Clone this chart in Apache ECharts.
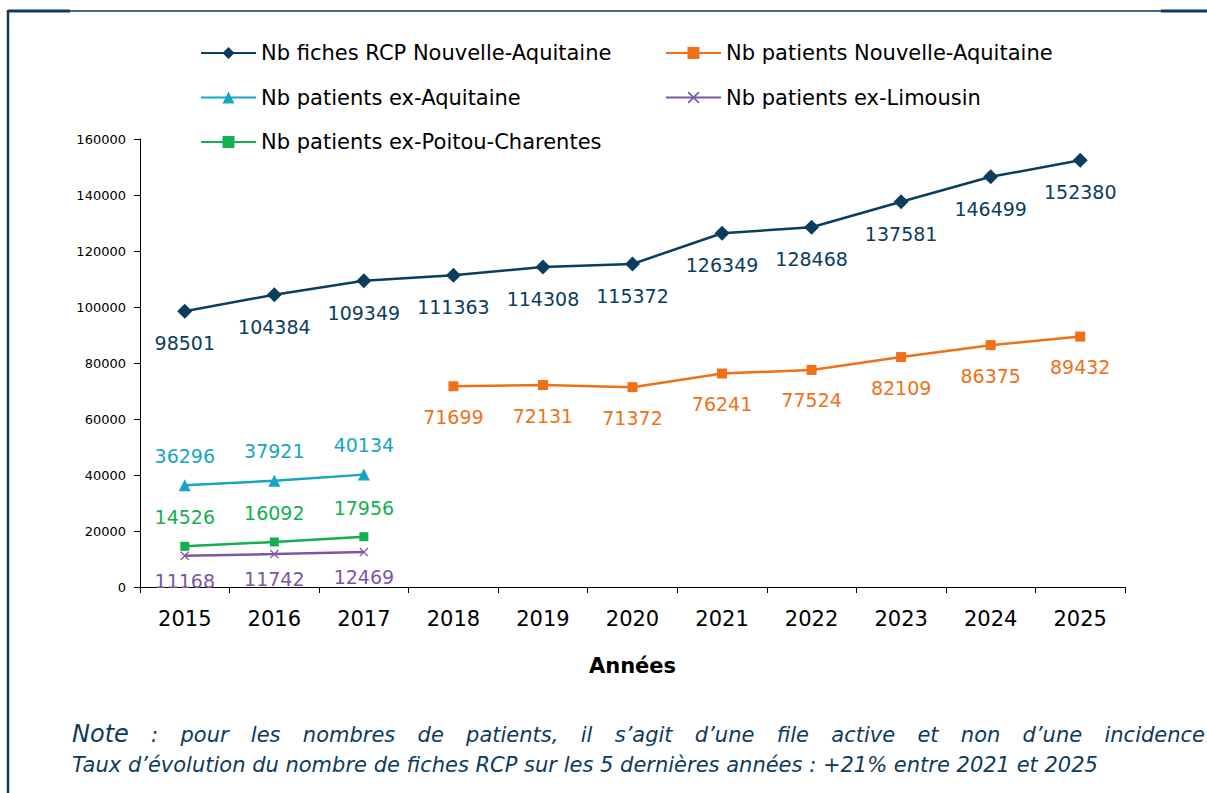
<!DOCTYPE html>
<html>
<head>
<meta charset="utf-8">
<script src="https://cdn.jsdelivr.net/npm/echarts@6/dist/echarts.min.js"></script>
<style>
  html, body { margin: 0; padding: 0; background: #fff; }
  #chart { width: 1207px; height: 793px; }
  .note {
    position: absolute; left: 72px; width: 1133px;
    font-family: "DejaVu Sans", sans-serif; font-style: italic;
    font-size: 21px; color: #0d3b5e; white-space: nowrap; line-height: 24px;
  }
  .note.first { top: 722px; text-align: justify; text-align-last: justify; white-space: normal; }
  .note.second { top: 753px; }
  .note .big { font-size: 24px; }
</style>
</head>
<body>
<div id="chart"></div>
<div class="note first"><span class="big">Note</span> : pour les nombres de patients, il s’agit d’une file active et non d’une incidence</div>
<div class="note second">Taux d’évolution du nombre de fiches RCP sur les 5 dernières années : +21% entre 2021 et 2025</div>
<script>
const years = ['2015', '2016', '2017', '2018', '2019', '2020', '2021', '2022', '2023', '2024', '2025']
const fichesNA = [98501, 104384, 109349, 111363, 114308, 115372, 126349, 128468, 137581, 146499, 152380]
const patientsNA = [null, null, null, 71699, 72131, 71372, 76241, 77524, 82109, 86375, 89432]
const patientsAquitaine = [36296, 37921, 40134]
const patientsLimousin = [11168, 11742, 12469]
const patientsPoitou = [14526, 16092, 17956]

const font = 'DejaVu Sans'
const crossPath = 'path://M0,1L1,0L5,4L9,0L10,1L6,5L10,9L9,10L5,6L1,10L0,9L4,5Z'

function lineSeries(name, data, color, symbol, size, pos, dist) {
  return {
    name: name,
    type: 'line',
    data: data,
    symbol: symbol,
    symbolSize: size,
    connectNulls: false,
    lineStyle: { color: color, width: 2.5 },
    itemStyle: { color: color },
    label: {
      show: true,
      position: pos,
      distance: dist,
      color: color,
      fontFamily: font,
      fontSize: 19
    }
  }
}

const legendText = { fontFamily: font, fontSize: 21, color: '#000', lineHeight: 22 }

const chart = echarts.init(document.getElementById('chart'), null, { renderer: 'svg' })
chart.setOption({
  animation: false,
  textStyle: { fontFamily: font },
  grid: { left: 140, right: 82, top: 139, bottom: 206 },
  legend: [
    {
      left: 195, top: 37, orient: 'vertical', itemWidth: 55, itemHeight: 15, itemGap: 22.5,
      data: ['Nb fiches RCP Nouvelle-Aquitaine', 'Nb patients ex-Aquitaine', 'Nb patients ex-Poitou-Charentes'],
      textStyle: legendText
    },
    {
      left: 660, top: 37, orient: 'vertical', itemWidth: 55, itemHeight: 15, itemGap: 22.5,
      data: ['Nb patients Nouvelle-Aquitaine', 'Nb patients ex-Limousin'],
      textStyle: legendText
    }
  ],
  xAxis: {
    type: 'category',
    data: years,
    boundaryGap: true,
    name: 'Années',
    nameLocation: 'middle',
    nameGap: 68,
    nameTextStyle: { fontFamily: font, fontSize: 21, fontWeight: 'bold', color: '#000' },
    axisLine: { lineStyle: { color: '#000', width: 1 } },
    axisTick: { show: true, length: 6, lineStyle: { color: '#000' } },
    axisLabel: { fontFamily: font, fontSize: 21, color: '#000', margin: 21 }
  },
  yAxis: {
    type: 'value',
    min: 0,
    max: 160000,
    interval: 20000,
    splitLine: { show: false },
    axisLine: { show: true, lineStyle: { color: '#000', width: 1 } },
    axisTick: { show: true, length: 6, lineStyle: { color: '#000' } },
    axisLabel: { fontFamily: font, fontSize: 13, color: '#000', margin: 14, formatter: v => String(v) }
  },
  graphic: [
    { type: 'line', shape: { x1: 8, y1: 11, x2: 1207, y2: 11 }, style: { stroke: '#0d3b5e', lineWidth: 1.5 } },
    { type: 'line', shape: { x1: 8, y1: 11, x2: 70, y2: 11 }, style: { stroke: '#0d3b5e', lineWidth: 3 } },
    { type: 'line', shape: { x1: 1161, y1: 11, x2: 1207, y2: 11 }, style: { stroke: '#0d3b5e', lineWidth: 3 } },
    { type: 'line', shape: { x1: 8, y1: 10, x2: 8, y2: 793 }, style: { stroke: '#0d3b5e', lineWidth: 2.5 } }
  ],
  series: [
    lineSeries('Nb fiches RCP Nouvelle-Aquitaine', fichesNA, '#0b3d5f', 'diamond', 15, 'bottom', 15),
    lineSeries('Nb patients Nouvelle-Aquitaine', patientsNA, '#f07018', 'rect', 10, 'bottom', 16),
    lineSeries('Nb patients ex-Aquitaine', patientsAquitaine, '#16a5c3', 'triangle', 12, 'top', 14),
    lineSeries('Nb patients ex-Limousin', patientsLimousin, '#7c56a6', crossPath, 9, 'bottom', 11),
    lineSeries('Nb patients ex-Poitou-Charentes', patientsPoitou, '#13b04f', 'rect', 9, 'top', 15)
  ]
})
window.addEventListener('resize', () => { chart.resize() })
</script>
</body>
</html>
